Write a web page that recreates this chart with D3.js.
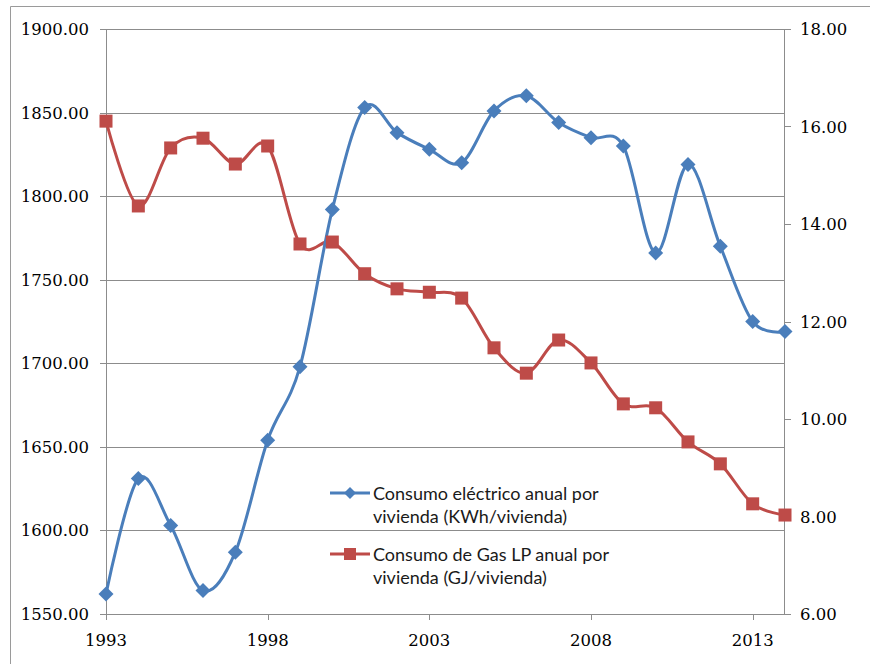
<!DOCTYPE html>
<html><head><meta charset="utf-8">
<script src="https://cdn.jsdelivr.net/npm/d3@7/dist/d3.min.js"></script>
<style>body{margin:0;background:#fff;} svg{display:block;}</style>
</head><body><svg id="c" width="870" height="664"></svg>
<script>
const years = [1993,1994,1995,1996,1997,1998,1999,2000,2001,2002,2003,2004,2005,2006,2007,2008,2009,2010,2011,2012,2013,2014];
const electrico = [1562,1631,1603,1564,1587,1654,1698,1792,1853,1838,1828,1820,1851,1860,1844,1835,1830,1766,1819,1770,1725,1719];
const gasLP = [16.11,14.37,15.56,15.76,15.23,15.60,13.59,13.63,12.98,12.67,12.60,12.48,11.46,10.94,11.62,11.15,10.31,10.23,9.53,9.08,8.26,8.03];
const xTicks = [1993,1998,2003,2008,2013];
const leftTicks = [1550,1600,1650,1700,1750,1800,1850,1900];
const rightTicks = [6,8,10,12,14,16,18];
const seriesNames = ["Consumo eléctrico anual por|vivienda (KWh/vivienda)","Consumo de Gas LP anual por|vivienda (GJ/vivienda)"];

const blue="#4A7EBB", red="#BE4B48", grid="#8C8C8C";
const svg=d3.select("#c");
const L=106, R=785, T=29, B=614;
const x=d3.scaleLinear().domain([1993,2014]).range([L,R]);
const yL=d3.scaleLinear().domain([1550,1900]).range([B,T]);
const yR=d3.scaleLinear().domain([6,18]).range([B,T]);

// outer border
svg.append("path").attr("d","M10.5,670 V6.5 H875").attr("fill","none").attr("stroke","#9a9a9a").attr("stroke-width",1);

// gridlines
svg.append("g").selectAll("line").data(leftTicks).join("line")
 .attr("x1",L-6).attr("x2",R).attr("y1",d=>Math.round(yL(d))+0.5).attr("y2",d=>Math.round(yL(d))+0.5)
 .attr("stroke",grid).attr("stroke-width",1);
// axes lines
svg.append("line").attr("x1",L+0.5).attr("x2",L+0.5).attr("y1",T).attr("y2",B+6).attr("stroke",grid);
svg.append("line").attr("x1",R-0.5).attr("x2",R-0.5).attr("y1",T).attr("y2",B).attr("stroke",grid);
// right ticks
svg.append("g").selectAll("line").data(rightTicks).join("line")
 .attr("x1",R).attr("x2",R+6).attr("y1",d=>Math.round(yR(d))+0.5).attr("y2",d=>Math.round(yR(d))+0.5).attr("stroke",grid);
// x ticks
svg.append("g").selectAll("line").data(xTicks).join("line")
 .attr("x1",d=>Math.round(x(d))+0.5).attr("x2",d=>Math.round(x(d))+0.5).attr("y1",B).attr("y2",B+6).attr("stroke",grid);

const tickFont="'DejaVu Serif', serif";
svg.append("g").selectAll("text").data(leftTicks).join("text")
 .attr("x",89).attr("y",d=>yL(d)+6).attr("text-anchor","end")
 .attr("font-family",tickFont).attr("font-size",16.5).attr("fill","#000").text(d=>d.toFixed(2));
svg.append("g").selectAll("text").data(rightTicks).join("text")
 .attr("x",800).attr("y",d=>yR(d)+6).attr("text-anchor","start")
 .attr("font-family",tickFont).attr("font-size",16.5).attr("fill","#000").text(d=>d.toFixed(2));
svg.append("g").selectAll("text").data(xTicks).join("text")
 .attr("x",d=>x(d)).attr("y",B+32).attr("text-anchor","middle")
 .attr("font-family",tickFont).attr("font-size",16.5).attr("fill","#000").text(d=>d);

const curve=d3.curveCardinal.tension(0);
const lineE=d3.line().x((d,i)=>x(years[i])).y(d=>yL(d)).curve(curve);
const lineG=d3.line().x((d,i)=>x(years[i])).y(d=>yR(d)).curve(curve);
svg.append("path").attr("d",lineG(gasLP)).attr("fill","none").attr("stroke",red).attr("stroke-width",3);
svg.append("path").attr("d",lineE(electrico)).attr("fill","none").attr("stroke",blue).attr("stroke-width",3);

const sq=13, dm=7.5;
svg.append("g").selectAll("rect").data(gasLP).join("rect")
 .attr("x",(d,i)=>x(years[i])-sq/2).attr("y",d=>yR(d)-sq/2).attr("width",sq).attr("height",sq).attr("fill",red);
svg.append("g").selectAll("path").data(electrico).join("path")
 .attr("transform",(d,i)=>`translate(${x(years[i])},${yL(d)})`)
 .attr("d",`M0,${-dm}L${dm},0L0,${dm}L${-dm},0Z`).attr("fill",blue);

// legend
const lg=svg.append("g");
const legFont="Lato, 'Open Sans', sans-serif";
[[blue,493,"d"],[red,554,"s"]].forEach((e,k)=>{
  lg.append("line").attr("x1",330).attr("x2",370).attr("y1",e[1]).attr("y2",e[1]).attr("stroke",e[0]).attr("stroke-width",3);
  if(e[2]==="d") lg.append("path").attr("transform",`translate(350,${e[1]})`).attr("d",`M0,-6L6,0L0,6L-6,0Z`).attr("fill",e[0]);
  else lg.append("rect").attr("x",344).attr("y",e[1]-6).attr("width",12).attr("height",12).attr("fill",e[0]);
  const parts=seriesNames[k].split("|");
  parts.forEach((p,j)=>lg.append("text").attr("x",373).attr("y",e[1]+7+j*23)
    .attr("font-family",legFont).attr("font-size",18).attr("fill","#1a1a1a").text(p));
});
</script></body></html>
